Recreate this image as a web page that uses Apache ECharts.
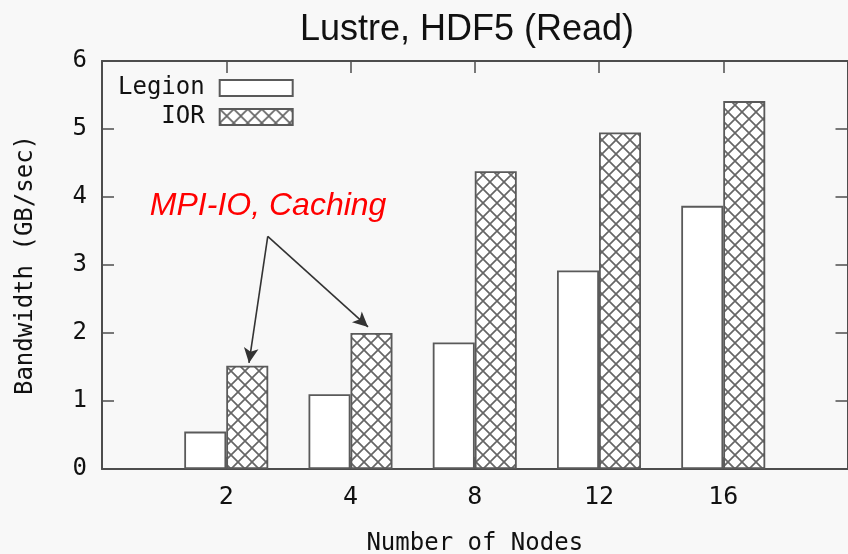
<!DOCTYPE html>
<html>
<head>
<meta charset="utf-8">
<script src="https://cdn.jsdelivr.net/npm/echarts@6/dist/echarts.min.js"></script>
<style>
html,body{margin:0;padding:0;background:#f8f8f8;}
#c{width:848px;height:554px;}
</style>
</head>
<body>
<div id="c"></div>
<script>
// ---- data ----
const categories = ['2', '4', '8', '12', '16'];
const legionValues = [0.55, 1.10, 1.86, 2.92, 3.87];
const iorValues = [1.52, 2.00, 4.38, 4.95, 5.41];
const seriesNames = ['Legion', 'IOR'];
const yTicks = [0, 1, 2, 3, 4, 5, 6];
const annotationText = 'MPI-IO, Caching';
// annotation arrows in data space: [from(x,y), to(x,y)]
const arrowFrom = [0.334, 3.42];
const arrowTargets = [[0.183, 1.56], [1.141, 2.09]];
const annotationPos = [0.337, 3.86];

// crosshatch pattern
function makePattern() {
  const s = 14;
  const cv = document.createElement('canvas');
  cv.width = s; cv.height = s;
  const ctx = cv.getContext('2d');
  ctx.fillStyle = '#ffffff';
  ctx.fillRect(0, 0, s, s);
  ctx.strokeStyle = '#666666';
  ctx.lineWidth = 1.7;
  ctx.beginPath();
  ctx.moveTo(-1, -1); ctx.lineTo(s + 1, s + 1);
  ctx.moveTo(s + 1, -1); ctx.lineTo(-1, s + 1);
  ctx.stroke();
  return cv;
}

const mono = 'DejaVu Sans Mono';
const frameColor = '#4d4d4d';
const chart = echarts.init(document.getElementById('c'), null, {renderer: 'canvas'});

const xIdx = categories.map((c, i) => i);

function frameAxis(extra) {
  return Object.assign({
    axisLine: {show: true, onZero: false, lineStyle: {color: frameColor, width: 2}},
    axisTick: {show: true, inside: true, length: 12, lineStyle: {color: frameColor, width: 1.5}},
    splitLine: {show: false}
  }, extra);
}

const option = {
  backgroundColor: '#f8f8f8',
  animation: false,
  title: {
    text: 'Lustre, HDF5 (Read)',
    left: 462, top: 7, textAlign: 'center',
    textStyle: {fontFamily: 'Liberation Sans, Arial', fontSize: 36, fontWeight: 'normal', color: '#111'}
  },
  legend: {
    orient: 'vertical',
    align: 'right',
    left: 113, top: 71,
    itemWidth: 73, itemHeight: 16, itemGap: 5,
    icon: 'rect',
    textStyle: {fontFamily: mono, fontSize: 24, color: '#111', padding: [0, 10, 0, 0]},
    data: seriesNames
  },
  grid: {left: 102, right: 0.5, top: 61, bottom: 85, containLabel: false, outerBoundsMode: 'none'},
  xAxis: [frameAxis({
    type: 'value', min: -1, max: 5, interval: 1, position: 'bottom',
    name: 'Number of Nodes', nameLocation: 'middle', nameGap: 63,
    nameTextStyle: {fontFamily: mono, fontSize: 24, color: '#111'},
    axisLabel: {
      margin: 16, fontFamily: mono, fontSize: 25, color: '#111',
      formatter: v => (categories[v] !== undefined ? categories[v] : '')
    }
  }), frameAxis({
    type: 'value', min: -1, max: 5, interval: 1, position: 'top',
    axisLabel: {show: false}
  })],
  yAxis: [frameAxis({
    type: 'value', min: yTicks[0], max: yTicks[yTicks.length - 1], interval: 1, position: 'left',
    name: 'Bandwidth (GB/sec)', nameLocation: 'middle', nameGap: 64, nameRotate: 90,
    nameTextStyle: {fontFamily: mono, fontSize: 24, color: '#111'},
    axisLabel: {margin: 15, fontFamily: mono, fontSize: 24, color: '#111'}
  }), frameAxis({
    type: 'value', min: yTicks[0], max: yTicks[yTicks.length - 1], interval: 1, position: 'right',
    axisLabel: {show: false}
  })],
  series: [{
    name: seriesNames[0], type: 'bar', xAxisIndex: 0, yAxisIndex: 0,
    barWidth: 42, barGap: '0%',
    itemStyle: {color: '#ffffff', borderColor: '#5a5a5a', borderWidth: 1.8},
    data: legionValues.map((v, i) => [xIdx[i], v])
  }, {
    name: seriesNames[1], type: 'bar', xAxisIndex: 0, yAxisIndex: 0,
    barWidth: 42, barGap: '0%',
    itemStyle: {color: {image: makePattern(), repeat: 'repeat'}, borderColor: '#5a5a5a', borderWidth: 1.8},
    data: iorValues.map((v, i) => [xIdx[i], v])
  }, {
    name: 'annotation', type: 'line', xAxisIndex: 0, yAxisIndex: 0,
    data: [], silent: true, z: 5,
    markLine: {
      silent: true,
      symbol: ['none', 'arrow'],
      symbolSize: [11, 15],
      label: {show: false},
      lineStyle: {color: '#333', width: 1.6, type: 'solid'},
      data: arrowTargets.map(t => [{coord: arrowFrom}, {coord: t}])
    },
    markPoint: {
      silent: true,
      symbol: 'rect', symbolSize: 1,
      itemStyle: {color: 'rgba(0,0,0,0)'},
      label: {
        show: true, position: 'inside', formatter: annotationText,
        fontFamily: 'Liberation Sans, Arial', fontStyle: 'italic', fontSize: 32, color: '#ff0000'
      },
      data: [{coord: annotationPos}]
    }
  }]
};
chart.setOption(option);
</script>
</body>
</html>
